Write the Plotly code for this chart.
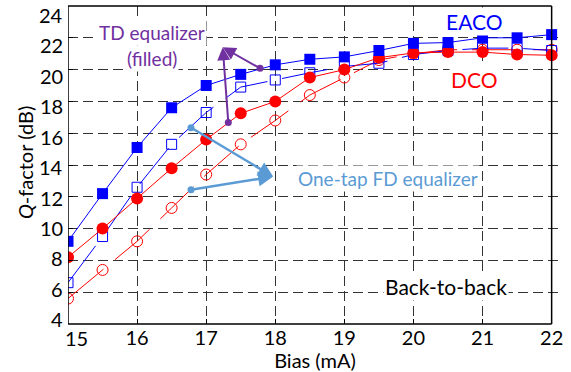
import plotly.graph_objects as go

# ---- data ----
bias = [15, 15.5, 16, 16.5, 17, 17.5, 18, 18.5, 19, 19.5, 20, 20.5, 21, 21.5, 22]
eaco_td = [9.2, 12.2, 15.1, 17.6, 19.0, 19.7, 20.3, 20.65, 20.8, 21.2, 21.65, 21.7, 22.0, 22.0, 22.2]
eaco_fd = [6.6, 9.5, 12.6, 15.3, 17.3, 18.9, 19.35, 19.8, 20.2, 20.4, 20.95, 21.2, 21.35, 21.35, 21.2]
dco_td = [8.2, 10.0, 11.9, 13.8, 15.6, 17.25, 18.0, 19.5, 20.0, 20.75, 21.05, 21.1, 21.1, 20.95, 20.9]
dco_fd = [5.6, 7.4, 9.2, 11.3, 13.4, 15.3, 16.8, 18.4, 19.5, 20.6, 21.0, 21.25, 21.25, 21.25, 21.25]

x_ticks = [16, 17, 18, 19, 20, 21, 22]
y_ticks = [4, 6, 8, 10, 12, 14, 16, 18, 20, 22, 24]

# arrow tails (on the curves) and heads (near the labels)
td_tail_x = [17.32, 17.78]
td_tail_y = [16.68, 20.08]
td_head = (17.24, 21.4)
fd_tail_x = [16.78, 16.78]
fd_tail_y = [12.45, 16.35]
fd_head = (17.97, 13.27)

BLUE = "#0000FF"
RED = "#FF0000"
PURPLE = "#7030A0"
LBLUE = "#5B9BD5"
FONT = "Lato"
DASH = "46px,15px"

fig = go.Figure()

fig.add_trace(go.Scatter(x=bias, y=dco_fd, mode="lines+markers",
                         line=dict(color=RED, width=1, dash=DASH),
                         marker=dict(symbol="circle-open", size=11, color=RED, line=dict(width=1))))
fig.add_trace(go.Scatter(x=bias, y=eaco_fd, mode="lines+markers",
                         line=dict(color=BLUE, width=1, dash=DASH),
                         marker=dict(symbol="square-open", size=10, color=BLUE, line=dict(width=1))))
fig.add_trace(go.Scatter(x=bias, y=dco_td, mode="lines+markers",
                         line=dict(color=RED, width=1),
                         marker=dict(symbol="circle", size=12, color=RED)))
fig.add_trace(go.Scatter(x=bias, y=eaco_td, mode="lines+markers",
                         line=dict(color=BLUE, width=1),
                         marker=dict(symbol="square", size=11, color=BLUE)))

# tail dots
fig.add_trace(go.Scatter(x=td_tail_x, y=td_tail_y, mode="markers",
                         marker=dict(color=PURPLE, size=7)))
fig.add_trace(go.Scatter(x=fd_tail_x, y=fd_tail_y, mode="markers",
                         marker=dict(color=LBLUE, size=7)))

for tx, ty in zip(td_tail_x, td_tail_y):
    fig.add_annotation(x=td_head[0], y=td_head[1], ax=tx, ay=ty, axref="x", ayref="y",
                       xref="x", yref="y", text="", showarrow=True, arrowhead=2,
                       arrowsize=1.3, arrowwidth=2, arrowcolor=PURPLE)
for tx, ty in zip(fd_tail_x, fd_tail_y):
    fig.add_annotation(x=fd_head[0], y=fd_head[1], ax=tx, ay=ty, axref="x", ayref="y",
                       xref="x", yref="y", text="", showarrow=True, arrowhead=2,
                       arrowsize=1.2, arrowwidth=2.5, arrowcolor=LBLUE)

def label(x, y, text, color, size):
    fig.add_annotation(x=x, y=y, xref="x", yref="y", text=text, showarrow=False,
                       font=dict(family=FONT, size=size, color=color), bgcolor="white",
                       borderpad=1, xanchor="center", yanchor="middle")

label(20.89, 23.0, "EACO", BLUE, 21)
label(20.88, 19.4, "DCO", RED, 21)
label(16.21, 22.35, "TD equalizer", PURPLE, 19)
label(16.21, 20.7, "(filled)", PURPLE, 19)
label(19.63, 13.18, "One-tap FD equalizer", LBLUE, 19)
label(20.47, 6.33, "Back-to-back", "black", 21)

# y tick labels (slightly compressed spacing, as in the reference)
for v in y_ticks:
    fig.add_annotation(x=0, y=v, xref="paper", yref="y", text=str(v), showarrow=False,
                       xanchor="right", yanchor="middle", xshift=-3,
                       yshift=-(9 - (24 - v) / 2 * 1.37),
                       font=dict(family=FONT, size=20, color="black"))

# y axis title
fig.add_annotation(x=0, y=0.506, xref="paper", yref="paper", text="<i>Q</i>-factor (dB)",
                   showarrow=False, textangle=-90, xanchor="center", yanchor="middle",
                   xshift=-43, font=dict(family=FONT, size=20, color="black"))

# "15" tick label (shifted, as in the reference)
fig.add_annotation(x=15.12, y=0, xref="x", yref="paper", text="15", showarrow=False,
                   yanchor="top", yshift=0, font=dict(family=FONT, size=20, color="black"))

# frame
frame = dict(color="black", width=1.5)
fig.add_shape(type="line", xref="x", yref="paper", x0=15, x1=22, y0=0, y1=0, line=frame)
fig.add_shape(type="line", xref="x", yref="paper", x0=15, x1=22, y0=1, y1=1, line=frame)
fig.add_shape(type="line", xref="x", yref="paper", x0=15, x1=15, y0=0, y1=1, line=frame)
fig.add_shape(type="line", xref="x", yref="paper", x0=22, x1=22, y0=0, y1=1, line=frame)

grid = dict(showgrid=True, gridcolor="#333333", gridwidth=1, griddash="10px,5px")

fig.update_xaxes(range=[15, 22.15], tickvals=x_ticks, ticktext=[str(v) for v in x_ticks],
                 showline=False, zeroline=False, ticks="inside", ticklen=5, tickcolor="black",
                 automargin=False,
                 tickfont=dict(family=FONT, size=20, color="black"),
                 title=dict(text="Bias (mA)", font=dict(family=FONT, size=20, color="black"),
                            standoff=4),
                 **grid)
fig.update_yaxes(range=[4, 24], tickvals=y_ticks, showline=False, zeroline=False,
                 ticks="inside", ticklen=5, tickcolor="black", automargin=False,
                 showticklabels=False,
                 **grid)

fig.update_layout(width=571, height=372, margin=dict(l=68, r=9, t=6, b=48),
                  showlegend=False, plot_bgcolor="white", paper_bgcolor="white",
                  font=dict(family=FONT))

fig.write_html("out.html", config={"displayModeBar": False},
               post_script="document.body.style.margin='0';document.body.style.overflow='hidden';")
